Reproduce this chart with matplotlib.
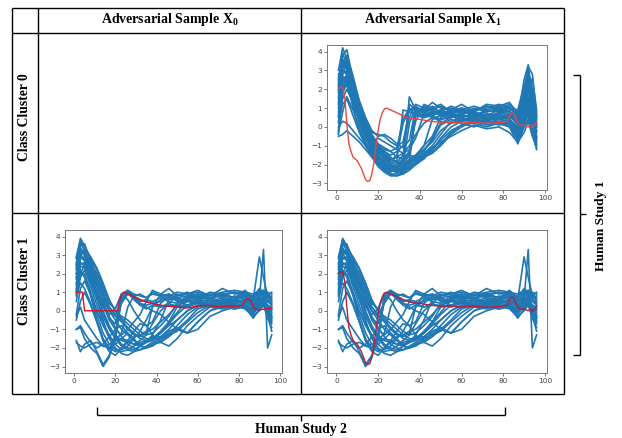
import matplotlib
matplotlib.use("Agg")
import matplotlib.pyplot as plt
from matplotlib.lines import Line2D

plt.rcParams['mathtext.fontset'] = 'custom'
plt.rcParams['mathtext.rm'] = 'Liberation Serif:bold'
plt.rcParams['mathtext.it'] = 'Liberation Serif:bold'
plt.rcParams['mathtext.bf'] = 'Liberation Serif:bold'

# ---------------- data ----------------
X = [1, 3, 5, 8, 11, 14, 17, 20, 23, 26, 29, 32, 35, 38, 42, 46, 50, 55, 60, 66, 72, 78, 83, 87, 90, 92, 94, 96]

cluster0_curves = [
    [2.5, 3.8, 4.1, 2.5, 1.2, 0.2, -0.6, -1.2, -1.6, -1.9, -1.8, 0.9, 0.8, 0.7, 0.6, 0.8, 0.7, 0.5, 0.6, 0.5, 0.7, 0.6, 0.5, 0.4, 2.5, 3.3, 1.5, 0.2],
    [1.8, 3.2, 3.5, 2.0, 0.8, -0.3, -1.0, -1.5, -1.8, -2.0, -2.2, -2.0, -1.5, 0.8, 0.9, 0.7, 0.8, 0.6, 0.5, 0.7, 0.4, 0.8, 0.6, 0.3, 1.8, 2.8, 1.0, -0.2],
    [1.0, 2.8, 3.0, 1.5, 0.2, -0.6, -1.3, -1.8, -2.1, -2.3, -2.4, -2.2, -1.9, -1.6, -1.0, 0.4, 0.6, 0.8, 0.4, 0.5, 0.6, 0.5, 0.7, 0.2, 1.2, 2.0, 0.8, -0.5],
    [-0.4, 2.2, 2.6, 1.0, -0.2, -0.9, -1.5, -2.0, -2.3, -2.5, -2.5, -2.3, -2.0, -1.8, -1.4, -1.0, -0.4, 0.3, 0.5, 0.3, 0.4, 0.6, 0.4, -0.1, 0.8, 1.5, 0.5, -0.8],
    [2.2, 3.5, 3.2, 2.2, 1.0, 0.0, -0.8, -1.3, -1.5, -1.8, -1.5, 0.2, 0.9, 1.0, 0.8, 0.6, 0.9, 0.7, 0.8, 0.6, 0.9, 1.1, 0.8, 0.6, 1.5, 2.2, 0.6, 0.5],
    [0.5, 2.0, 2.4, 1.4, 0.4, -0.5, -1.1, -1.6, -1.9, -2.1, -2.3, -2.1, -1.7, -1.5, -1.2, -0.8, -0.2, 0.2, 0.3, 0.4, 0.2, 0.3, 0.2, -0.4, 0.5, 1.0, 0.2, -1.0],
    [-0.5, -0.4, -0.2, -0.5, -0.8, -1.2, -1.6, -1.9, -2.2, -2.4, -2.2, -1.8, -1.5, -1.6, -1.2, -0.7, 0.1, 0.4, 0.2, 0.0, 0.3, 0.1, 0.2, -0.7, 0.2, 0.6, 0.0, -0.7],
    [2.8, 3.0, 2.8, 1.8, 0.7, -0.2, -0.8, -1.1, -1.3, -1.5, -1.3, -1.0, 0.5, 1.2, 1.0, 0.9, 1.1, 0.8, 1.0, 0.9, 1.0, 1.2, 1.0, 0.7, 2.0, 3.2, 2.8, 0.6],
    [1.5, 2.6, 2.2, 1.2, 0.3, -0.4, -0.9, -1.4, -1.6, -1.8, -1.6, -1.4, -1.2, -0.6, 0.7, 0.5, 0.4, 0.6, 0.3, 0.6, 0.5, 0.4, 0.3, 0.0, 0.7, 1.2, 0.4, 0.0],
    [0.2, 1.2, 1.5, 0.6, -0.3, -1.0, -1.6, -2.1, -2.4, -2.6, -2.6, -2.4, -2.2, -2.0, -1.7, -1.2, -0.7, -0.2, 0.1, 0.2, 0.0, 0.2, 0.0, -0.9, 0.0, 0.4, -0.3, -1.2],
    [2.0, 3.0, 2.9, 1.9, 0.9, 0.0, -0.6, -1.0, -1.2, -1.3, -1.1, 0.4, 1.0, 0.6, 0.7, 1.1, 0.7, 0.9, 0.7, 1.0, 0.8, 0.9, 1.1, 0.5, 1.0, 1.8, 2.6, 0.9],
    [-0.2, 1.8, 2.3, 1.2, 0.4, -0.3, -0.8, -0.6, -0.8, -1.0, -1.2, -1.4, -1.0, -0.4, 0.2, 0.5, 0.3, 0.2, 0.4, 0.3, 0.2, 0.4, 0.3, -0.3, 0.4, 0.8, 0.1, -0.5],
    [1.2, 2.4, 2.7, 1.6, 0.5, -0.4, -1.2, -1.7, -2.0, -2.2, -2.1, -1.8, 1.6, 0.9, 0.5, 0.8, 0.6, 0.7, 0.9, 0.7, 0.6, 0.7, 0.9, 0.2, 1.3, 2.4, 1.2, 0.3],
    [0.8, 2.0, 2.5, 1.7, 0.9, 0.1, -0.5, -0.9, -1.5, -2.0, -2.3, -2.5, -2.3, -2.0, -1.6, -1.3, -0.9, -0.3, 0.1, 0.4, 0.3, 0.5, 0.4, -0.2, 0.6, 1.6, 0.7, -0.2],
    [2.4, 3.3, 3.6, 2.6, 1.4, 0.5, -0.2, -0.5, -0.4, -0.6, -0.9, -1.1, -0.7, 1.0, 0.9, 1.3, 1.0, 0.9, 1.2, 0.8, 1.1, 1.0, 1.2, 0.8, 1.4, 2.0, 0.9, 0.7],
    [0.0, 0.3, 0.2, -0.2, -0.6, -1.0, -1.4, -1.9, -2.3, -2.5, -2.6, -2.5, -2.1, -1.9, -1.5, -1.1, -0.8, -0.5, -0.2, 0.1, -0.1, 0.0, -0.3, -0.8, -0.3, 0.3, -0.5, -1.1],
    [3.0, 4.2, 3.6, 2.4, 1.1, 0.1, -0.7, -1.2, -1.5, -1.7, -1.9, -1.5, 1.2, 0.9, 1.0, 0.8, 0.9, 1.0, 0.8, 0.9, 1.1, 0.9, 1.0, 0.6, 1.8, 3.0, 2.0, 0.4],
    [1.6, 2.9, 3.3, 2.1, 0.9, -0.1, -0.9, -1.6, -2.0, -2.3, -2.4, -2.2, -1.8, 0.6, 0.5, 0.6, 0.4, 0.5, 0.7, 0.4, 0.5, 0.6, 0.4, 0.0, 0.9, 1.4, 0.3, -0.6],
    [2.6, 3.6, 3.0, 2.0, 0.9, 0.2, -0.3, -0.4, -0.5, -0.8, -1.0, -0.8, 0.9, 1.1, 0.8, 1.0, 1.2, 0.8, 0.9, 1.1, 0.9, 0.8, 1.0, 0.9, 2.2, 2.6, 1.8, 0.8],
    [0.6, 2.4, 2.8, 1.7, 0.6, -0.3, -1.0, -1.5, -1.9, -2.2, -2.3, -2.1, -1.9, -1.7, -1.3, -0.6, 0.2, 0.5, 0.6, 0.5, 0.4, 0.4, 0.6, 0.1, 0.6, 1.2, 0.2, -0.3],
    [1.9, 3.1, 3.4, 2.3, 1.1, 0.2, -0.5, -1.0, -1.3, -1.6, -1.9, -2.0, 0.2, 1.0, 0.7, 0.6, 0.8, 0.6, 0.7, 0.8, 0.6, 0.9, 0.7, 0.4, 1.6, 2.3, 1.4, 0.1],
    [-0.3, 0.8, 1.6, 0.9, 0.0, -0.8, -1.4, -1.9, -2.2, -2.3, -2.4, -2.3, -2.1, -1.9, -1.6, -1.4, -1.0, -0.4, 0.0, 0.3, 0.1, 0.2, 0.0, -0.6, 0.1, 0.7, -0.2, -0.9],
    [2.3, 2.7, 2.5, 1.6, 0.6, -0.2, -0.8, -1.3, -1.7, -1.9, -2.0, -1.7, -1.4, 0.7, 1.1, 0.9, 0.6, 0.8, 1.0, 0.6, 0.8, 1.0, 0.8, 0.5, 1.1, 1.9, 1.3, 0.5],
    [1.3, 3.4, 3.8, 2.7, 1.3, 0.3, -0.6, -1.2, -1.7, -2.0, -2.1, -2.0, -1.8, -1.5, -1.0, -0.5, 0.5, 0.7, 0.5, 0.7, 0.6, 0.7, 0.5, 0.3, 1.0, 2.7, 1.6, 0.0],
    [0.3, 1.5, 2.0, 1.3, 0.5, -0.2, -0.7, -1.1, -1.4, -1.7, -1.9, -2.0, -1.9, -1.7, -1.5, -1.2, -0.6, 0.0, 0.3, 0.4, 0.3, 0.2, 0.1, -0.5, 0.3, 0.9, -0.1, -0.6],
    [2.1, 3.9, 3.3, 2.3, 1.2, 0.4, -0.4, -0.9, -1.1, -1.3, -1.6, -1.7, -1.3, 0.3, 1.2, 1.0, 0.8, 1.1, 0.9, 0.8, 1.2, 1.1, 1.3, 0.7, 1.3, 2.1, 1.1, 0.6],
]

cluster1_curves = [
    [2.2, 3.7, 3.2, 2.6, 2.0, 1.2, 0.4, 0.1, 0.9, 1.1, 0.8, 0.6, 0.5, 0.4, 0.5, 0.7, 0.6, 0.5, 0.6, 0.5, 0.7, 0.6, 0.7, 0.5, 0.8, 1.0, 0.6, 0.4],
    [2.6, 3.2, 3.0, 2.3, 1.6, 0.8, 0.0, -0.5, -1.0, -1.3, -1.6, -1.8, -1.7, -1.3, -0.5, 0.6, 0.9, 0.7, 0.8, 0.6, 0.9, 0.7, 0.9, 0.6, 2.9, 1.8, 0.8, 0.5],
    [1.5, 2.8, 2.9, 2.0, 1.0, 0.0, -0.8, -1.4, -1.8, -2.0, -2.1, -1.9, -1.7, -1.6, -1.2, -0.7, -0.2, 0.3, 0.5, 0.4, 0.6, 0.5, 0.5, 0.2, 0.6, 3.3, -2.0, -1.3],
    [1.0, 2.2, 1.8, 0.8, -0.5, -1.5, -2.0, -2.2, -2.0, -1.7, -1.4, -1.3, -1.1, -1.0, -0.6, -0.2, 0.3, 0.5, 0.4, 0.3, 0.4, 0.2, 0.4, 0.0, 0.4, 0.8, 0.2, -0.6],
    [-1.6, -2.2, -1.8, -1.6, -2.2, -2.9, -2.4, -1.6, 0.9, 1.0, 0.6, 0.3, 0.1, 0.3, 0.2, 0.4, 0.2, 0.3, 0.5, 0.3, 0.4, 0.6, 0.3, 0.1, 0.5, 0.8, 0.0, -0.3],
    [-1.0, -0.8, -1.2, -1.7, -2.0, -1.8, -1.4, -1.0, -0.8, -1.2, -1.6, -1.9, -2.0, -1.8, -1.5, -1.2, -1.0, -1.2, -0.6, 0.0, 0.2, 0.1, 0.3, -0.1, 0.2, 0.5, -0.2, -1.1],
    [-0.3, 0.2, -0.5, -1.0, -1.5, -1.9, -2.0, -1.6, -1.2, 0.2, 0.8, 0.9, 0.7, 1.0, 0.8, 0.6, 0.7, 0.5, 0.6, 0.7, 0.5, 0.8, 0.6, 0.4, 0.6, 0.7, 0.3, 0.2],
    [2.8, 3.9, 3.5, 2.8, 2.2, 1.3, 0.5, 0.0, -0.3, -0.5, -0.8, -1.1, -1.3, -1.2, -0.8, -0.3, 0.4, 0.8, 0.6, 0.9, 0.8, 1.0, 0.8, 0.8, 1.0, 0.9, 0.7, 0.8],
    [0.5, 1.8, 2.2, 1.5, 0.6, -0.3, -1.0, -1.5, -1.9, -2.1, -2.2, -2.1, -1.9, -1.7, -1.4, -1.0, -0.5, 0.0, 0.3, 0.2, 0.3, 0.1, 0.2, -0.2, 0.3, 0.5, 0.1, -0.4],
    [2.0, 3.0, 3.3, 2.5, 1.5, 0.4, -0.5, -1.0, -1.3, -1.0, -0.6, -0.2, 0.5, 1.1, 0.9, 0.8, 1.0, 0.9, 1.1, 0.8, 1.2, 0.9, 1.0, 0.9, 1.1, 1.0, 0.9, 0.6],
    [1.2, 2.5, 2.6, 1.8, 0.7, -0.5, -1.5, -2.0, -2.3, -2.4, -2.2, -1.9, -1.6, -1.4, -1.4, -1.1, -0.9, -1.2, -1.0, -0.3, 0.0, 0.2, 0.3, 0.0, 0.4, 0.6, 0.0, -0.2],
    [-1.0, -0.9, -1.5, -2.0, -2.3, -3.0, -2.5, -1.2, 0.5, 1.0, 0.7, 0.4, 0.3, 0.4, 0.2, 0.3, 0.3, 0.2, 0.4, 0.2, 0.3, 0.2, 0.4, 0.0, 0.2, 0.5, -0.1, 0.1],
    [2.4, 3.4, 3.0, 2.1, 1.3, 0.6, 0.0, -0.3, -0.6, -1.0, -1.3, -1.4, -1.2, 0.2, 0.9, 1.2, 0.8, 1.0, 0.7, 1.0, 0.9, 0.7, 1.1, 0.7, 1.2, 1.0, 1.0, 0.9],
    [0.8, 2.0, 2.0, 1.0, 0.0, -0.8, -1.4, -1.8, -1.5, -1.2, -1.5, -1.9, -2.0, -1.9, -1.6, -1.3, -0.8, -0.2, 0.2, 0.4, 0.2, 0.3, 0.1, -0.3, 0.0, 0.3, -0.4, -0.9],
    [1.8, 2.6, 2.4, 1.6, 0.8, 0.2, -0.2, 0.1, 0.9, 0.6, 0.0, -0.5, -0.8, -0.6, 0.4, 0.8, 0.5, 0.6, 0.8, 0.6, 0.5, 0.6, 0.8, 0.3, 0.7, 0.6, 0.5, 0.3],
    [-0.5, 0.5, 1.0, 0.3, -0.6, -1.6, -2.2, -2.4, -2.0, -1.6, -1.1, -0.7, -0.8, -1.3, -1.7, -1.9, -1.5, -0.8, -0.3, 0.2, 0.1, 0.3, 0.2, -0.4, 0.1, 0.4, -0.2, -0.7],
    [2.9, 3.8, 3.4, 2.9, 2.3, 1.5, 0.6, 0.0, -0.4, -0.7, -1.0, -1.3, -1.5, -1.5, -1.2, -0.6, 0.2, 0.7, 0.9, 0.7, 0.9, 1.0, 0.9, 0.7, 0.9, 1.1, 0.8, 1.0],
    [1.7, 3.1, 2.7, 2.2, 1.4, 0.5, -0.3, -0.9, -1.4, -1.8, -2.0, -2.1, -2.0, -1.8, -1.7, -1.4, -1.0, -0.5, 0.1, 0.3, 0.4, 0.3, 0.3, 0.1, 0.5, 0.7, 0.2, -0.1],
    [0.9, 1.5, 1.2, 0.4, -0.6, -1.6, -2.1, -1.5, 0.7, 1.0, 0.8, 0.5, 0.6, 0.5, 0.7, 0.5, 0.4, 0.6, 0.4, 0.5, 0.3, 0.5, 0.5, 0.2, 0.4, 0.6, 0.2, 0.0],
    [2.3, 3.3, 3.1, 2.4, 1.7, 0.9, 0.2, -0.2, -0.5, -0.9, -1.2, -1.5, -1.6, -1.5, -1.1, -0.6, -0.1, 0.6, 0.7, 0.9, 0.7, 0.6, 0.8, 0.5, 0.7, 0.9, 0.6, 0.3],
    [-0.2, 1.2, 1.6, 0.9, -0.2, -1.2, -1.8, -2.1, -2.2, -2.1, -1.9, -1.7, -1.6, -1.5, -1.5, -1.3, -1.1, -0.6, -0.1, 0.3, 0.5, 0.4, 0.5, 0.2, 0.5, 0.6, 0.1, -0.5],
    [2.0, 2.9, 2.7, 1.9, 1.1, 0.3, -0.4, -0.7, 0.6, 1.1, 0.9, 0.8, 0.7, 0.9, 0.8, 0.9, 0.7, 0.8, 0.9, 0.7, 0.8, 0.7, 0.9, 0.8, 1.0, 1.1, 0.9, 0.7],
    [1.4, 2.4, 2.3, 1.3, 0.3, -0.7, -1.3, -1.8, -2.1, -1.9, -1.5, -1.1, -0.5, 0.2, 0.6, 0.9, 0.6, 0.3, 0.5, 0.6, 0.4, 0.5, 0.6, 0.3, 0.5, 0.4, 0.3, 0.1],
    [-1.7, -1.9, -2.0, -1.8, -1.7, -1.9, -1.8, -1.6, -1.5, -1.6, -1.8, -1.9, -1.7, -1.5, -1.2, -0.8, -0.5, 0.0, 0.3, 0.2, 0.4, 0.3, 0.2, -0.1, 0.3, 0.5, 0.0, -0.3],
    [2.5, 3.5, 3.6, 2.7, 1.8, 1.0, 0.2, -0.2, 0.4, 0.9, 0.7, 0.4, 0.2, 0.0, -0.2, -0.6, -1.0, -1.2, -0.6, 0.0, 0.3, 0.4, 0.3, 0.0, 0.3, 0.5, 0.0, -0.4],
    [1.1, 2.0, 2.5, 1.7, 0.9, -0.1, -0.9, -1.3, -1.6, -1.7, -1.8, -1.6, -1.3, -0.7, 0.0, 0.4, 0.8, 0.9, 1.0, 0.8, 1.0, 1.1, 1.0, 0.6, 0.8, 1.0, 0.8, 0.5],
]

# adversarial sample X1
x1_t = [1, 2, 3, 4, 5, 6, 7, 8, 10, 12, 13, 14, 15, 16, 17, 18, 19, 20, 21, 22, 23, 24, 25, 27, 30, 33, 36, 40,
        45, 50, 55, 60, 65, 70, 75, 80, 82, 83, 84, 85, 86, 87, 88, 90, 92, 93, 94, 96]
x1_v = [2.0, 2.1, 2.1, 1.6, 0.2, -0.9, -1.3, -1.6, -1.8, -2.2, -2.5, -2.8, -2.9, -2.85, -2.5, -1.9, -1.0, -0.2,
        0.4, 0.75, 0.95, 1.0, 0.95, 0.85, 0.7, 0.55, 0.45, 0.4, 0.3, 0.25, 0.25, 0.2, 0.25, 0.2, 0.2, 0.25,
        0.3, 0.6, 0.75, 0.7, 0.45, 0.2, 0.1, 0.1, 0.0, 0.1, -0.05, 0.25]

# adversarial sample X0
x0_t = [1, 4, 5, 21, 22, 23, 24, 25, 27, 30, 33, 36, 40, 45, 50, 55, 60, 65, 70, 75, 80, 82, 83, 85, 86, 87, 88, 90, 93, 96]
x0_v = [1.0, 1.0, 0.0, 0.0, 0.5, 0.85, 1.0, 0.95, 0.85, 0.7, 0.55, 0.45, 0.35, 0.25, 0.2, 0.15, 0.25, 0.3, 0.2,
        0.25, 0.25, 0.3, 0.6, 0.65, 0.55, 0.2, 0.08, 0.05, 0.1, 0.15]

col_titles = [r'Adversarial Sample X$_{0}$', r'Adversarial Sample X$_{1}$']
row_titles = ['Class Cluster 0', 'Class Cluster 1']
study_labels = ['Human Study 1', 'Human Study 2']
yticks = [-3, -2, -1, 0, 1, 2, 3, 4]
xticks = [0, 20, 40, 60, 80, 100]

# ---------------- figure ----------------
W, H = 622, 438
fig = plt.figure(figsize=(W / 100, H / 100), dpi=100)


def fx(px):
    return px / W


def fy(py):
    return 1 - py / H


def add_panel(l, t, r, b, curves, red_t, red_v, red_col):
    ax = fig.add_axes([fx(l), fy(b), fx(r) - fx(l), fy(t) - fy(b)])
    for c in curves:
        ax.plot(X, c, color='#1f77b4', lw=1.2, solid_joinstyle='round')
    ax.plot(red_t, red_v, color=red_col, lw=1.0)
    ax.set_xlim(-4.5, 101)
    ax.set_ylim(-3.35, 4.35)
    ax.set_yticks(yticks)
    ax.set_xticks(xticks)
    ax.tick_params(labelsize=5.3, length=2, width=0.5, colors='#444444', pad=1.5)
    for s in ax.spines.values():
        s.set_color('#777777')
        s.set_linewidth(0.7)
    return ax


add_panel(327, 45, 547, 190, cluster0_curves, x1_t, x1_v, '#ee4444')
add_panel(65, 230, 282, 373, cluster1_curves, x0_t, x0_v, '#dd1122')
add_panel(327, 230, 547, 373, cluster1_curves, x1_t, x1_v, '#b81e3c')

# table grid
def line(x0, y0, x1, y1, lw=1.0):
    fig.add_artist(Line2D([fx(x0), fx(x1)], [fy(y0), fy(y1)], color='black', lw=lw,
                          transform=fig.transFigure, solid_capstyle='butt'))

L, C, M, R = 12, 38, 301, 564
T, HB, MID, B = 8, 33, 213, 394
line(L, T, R, T)
line(L, HB, R, HB)
line(L, MID, R, MID)
line(L, B, R, B)
for xx in (L, C, M, R):
    line(xx, T, xx, B)

serif = 'Liberation Serif'
fig.text(fx((C + M) / 2), fy(20), col_titles[0], family=serif, weight='bold', fontsize=10,
         ha='center', va='center')
fig.text(fx((M + R) / 2), fy(20), col_titles[1], family=serif, weight='bold', fontsize=10,
         ha='center', va='center')
fig.text(fx(25), fy(117), row_titles[0], family=serif, weight='bold', fontsize=9.8,
         rotation=90, ha='center', va='center')
fig.text(fx(25), fy(281), row_titles[1], family=serif, weight='bold', fontsize=9.8,
         rotation=90, ha='center', va='center')

# bottom brace (Human Study 2)
line(97, 407, 97, 415, lw=1.0)
line(97, 415, 505, 415, lw=1.0)
line(505, 407, 505, 415, lw=1.0)
line(301, 415, 301, 421, lw=1.0)
fig.text(fx(301), fy(429), study_labels[1], family=serif, weight='bold', fontsize=9.8,
         ha='center', va='center')

# right brace (Human Study 1)
line(573, 75, 580, 75, lw=1.0)
line(580, 75, 580, 355, lw=1.0)
line(573, 355, 580, 355, lw=1.0)
line(580, 214, 586, 214, lw=1.0)
fig.text(fx(601), fy(226), study_labels[0], family=serif, weight='bold', fontsize=9.6,
         rotation=90, ha='center', va='center')

fig.savefig('out.png', dpi=100)
